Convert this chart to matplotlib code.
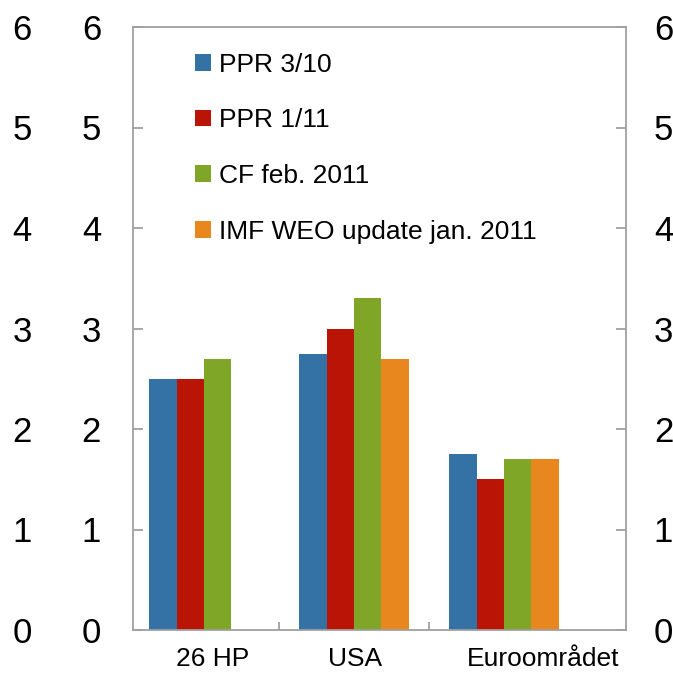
import matplotlib
matplotlib.use("Agg")
import matplotlib.pyplot as plt
import numpy as np

plt.rcParams['font.family'] = ['Liberation Sans', 'DejaVu Sans']

categories = ["26 HP", "USA", "Euroområdet"]
series_names = ["PPR 3/10", "PPR 1/11", "CF feb. 2011", "IMF WEO update jan. 2011"]
ppr_3_10 = [2.5, 2.75, 1.75]
ppr_1_11 = [2.5, 3.0, 1.5]
cf_feb_2011 = [2.7, 3.3, 1.7]
imf_weo_jan_2011 = [np.nan, 2.7, 1.7]
yticks = [0, 1, 2, 3, 4, 5, 6]

series = [ppr_3_10, ppr_1_11, cf_feb_2011, imf_weo_jan_2011]
colors = ["#3472A6", "#B91405", "#80A628", "#E9871F"]

fig = plt.figure(figsize=(6.73, 6.73), dpi=100)
ax = fig.add_axes([133/673, 43/673, 493/673, 603/673])

x = np.arange(len(categories))
w = 0.182
for i, (vals, name, c) in enumerate(zip(series, series_names, colors)):
    ax.bar(x + (i - 1.5) * w, vals, width=w, color=c, label=name, linewidth=0)

ax.set_xlim(-0.473, 2.813)
ax.set_ylim(0, 6)
ax.set_yticks(yticks)

spine_c = "#A0A0A0"
for s in ax.spines.values():
    s.set_color(spine_c)
    s.set_linewidth(1.3)

ax.tick_params(axis='y', which='both', direction='in', length=7.5, width=1.3,
               color=spine_c, labelsize=25, pad=23, left=True, right=True,
               labelleft=True, labelright=False)
ax.set_xticks([0.5, 1.5])
ax.set_xticklabels([])
label_offsets = [0.06, 0.007, 0.26]
ax.set_xticks(x + np.array(label_offsets), minor=True)
ax.set_xticklabels(categories, minor=True)
ax.tick_params(axis='x', which='major', direction='in', length=6, width=1.3, color=spine_c)
ax.tick_params(axis='x', which='minor', length=0, labelsize=19, pad=12)

sec = ax.secondary_yaxis(-0.205)
sec.set_yticks(yticks)
sec.spines['left'].set_visible(False)
sec.tick_params(axis='y', length=0, pad=0, labelsize=25)

secr = ax.secondary_yaxis('right')
secr.set_yticks(yticks)
secr.spines['right'].set_visible(False)
secr.tick_params(axis='y', length=0, pad=20, labelsize=25)

leg = ax.legend(loc='upper left', bbox_to_anchor=(0.105, 0.975), frameon=False,
                fontsize=19, handlelength=0.6, handleheight=0.6, handletextpad=0.3,
                labelspacing=1.2, borderaxespad=0)

fig.savefig("out.png", dpi=100)
